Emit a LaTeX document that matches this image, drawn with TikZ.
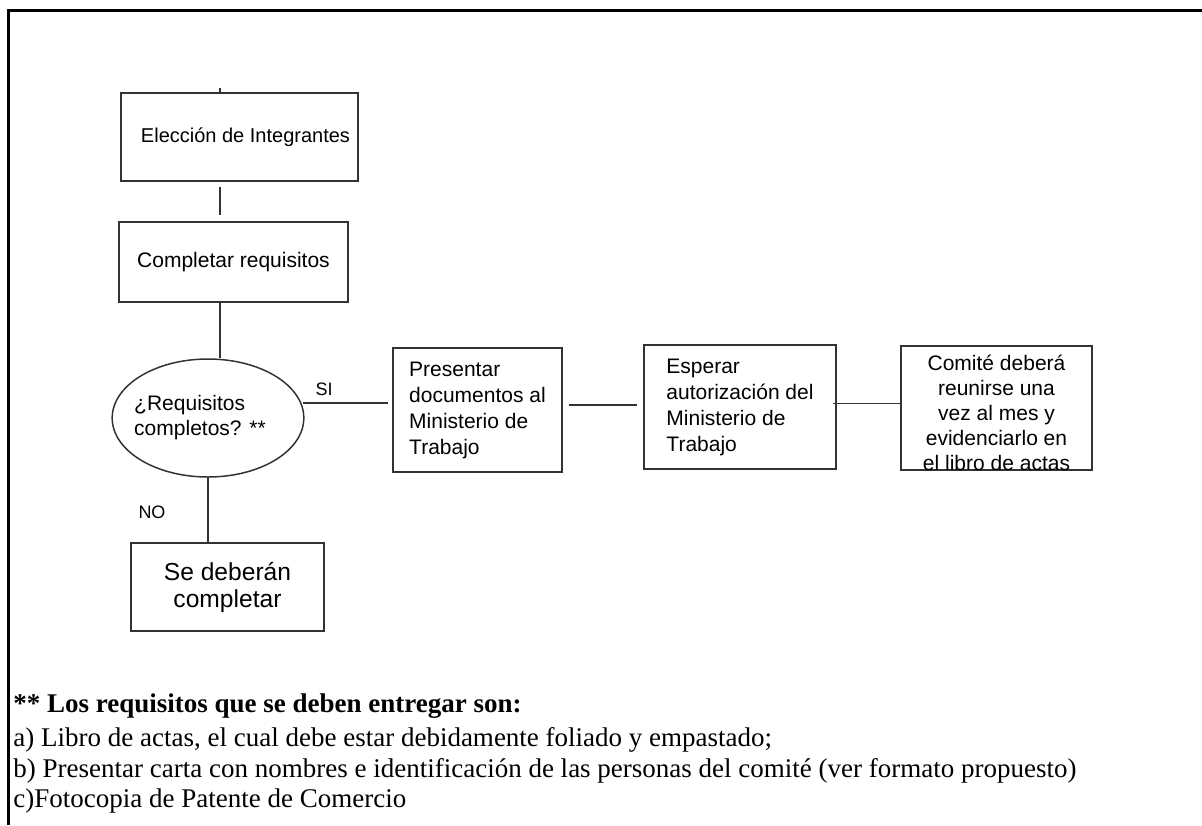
\documentclass[tikz,border=0pt]{standalone}
\usepackage{fontspec}
\setmainfont{Liberation Serif}
\newfontfamily\arialf{Liberation Sans}
\usepackage{tikz}
\usetikzlibrary{shapes.geometric,positioning}
\definecolor{trazo}{HTML}{333333}
\tikzset{
  paso/.style={draw=trazo,line width=0.75pt,inner sep=0pt,align=left,
               font=\arialf\fontsize{10.5}{13}\selectfont},
  decision/.style={ellipse,draw=trazo,line width=0.75pt,inner sep=0pt,
               align=left,font=\arialf\fontsize{10.5}{12.5}\selectfont},
  enlace/.style={draw=trazo,line width=0.75pt},
  etiq/.style={font=\arialf\fontsize{9}{11}\selectfont,inner sep=0pt},
  nota/.style={anchor=base west,inner sep=0pt,
               font=\fontsize{13.5}{15.5}\selectfont},
}
\begin{document}
\begin{tikzpicture}[x=0.5pt,y=-0.5pt]
  \useasboundingbox (0,0) rectangle (1202,825);
  \draw[line width=1.5pt] (8,825) -- (8,10) -- (1202,10);

  \node[paso,minimum width=118.5pt,minimum height=44pt,
        font=\arialf\fontsize{10}{12}\selectfont] (eleccion) at (239.5,137)
    {\hspace*{6pt}Elección de Integrantes};
  \node[paso,minimum width=114.5pt,minimum height=40pt] (completar)
    at (233.5,262) {Completar requisitos};
  \node[decision,inner xsep=-3pt,minimum width=92pt,minimum height=59pt]
    (requisitos) at (208,418) {¿Requisitos\\completos? **\hspace*{8pt}};
  \node[paso,align=center,minimum width=96.5pt,minimum height=44pt,
        font=\arialf\fontsize{12.3}{13.5}\selectfont] (sedeberan)
    at (227.5,587) {Se deberán\\completar};
  \node[paso,minimum width=84.5pt,minimum height=62pt] (presentar)
    at (477.5,410) {Presentar\\documentos al\\Ministerio de\\Trabajo};
  \node[paso,minimum width=96pt,minimum height=62pt] (esperar)
    at (740,407) {Esperar\\autorización del\\Ministerio de\\Trabajo};
  \node[paso,minimum width=95.5pt,minimum height=62pt,
        label={[font=\arialf\fontsize{10.5}{12.5}\selectfont,align=center,
                inner sep=0pt,yshift=-2.25pt]center:Comité deberá\\reunirse una\\vez al mes y\\evidenciarlo en\\el libro de actas}]
    (comite) at (996.5,408) {};

  \coordinate (arriba) at (220,88);
  \draw[enlace] (arriba) -- (arriba |- eleccion.north);
  \draw[enlace,shorten <=2.5pt,shorten >=3pt]
    (arriba |- eleccion.south) -- (arriba |- completar.north);
  \draw[enlace] (arriba |- completar.south) -- (arriba |- requisitos.north);
  \draw[enlace] (requisitos.south) -- (requisitos.south |- sedeberan.north);
  \draw[enlace,shorten <=0.5pt,shorten >=2pt]
    (requisitos.9) -- (requisitos.9 -| presentar.west);
  \draw[enlace,shorten <=3pt,shorten >=3pt]
    ([yshift=2.5pt]presentar.east) -- ([yshift=2.5pt]presentar.east -| esperar.west);
  \draw[enlace,shorten <=-2pt]
    ([yshift=1.75pt]esperar.east) -- ([yshift=1.75pt]esperar.east -| comite.west);

  \node[etiq] (lblsi) at (324,389) {SI};
  \node[etiq] (lblno) at (152,512) {NO};

  \node[nota,font=\bfseries\fontsize{13.5}{15.5}\selectfont] (titulo) at (13,712)
    {** Los requisitos que se deben entregar son:};
  \node[nota] (reqa) at (13,746)
    {a) Libro de actas, el cual debe estar debidamente foliado y empastado;};
  \node[nota] (reqb) at (13,777)
    {b) Presentar carta con nombres e identificación de las personas del comité (ver formato propuesto)};
  \node[nota] (reqc) at (13,807) {c)Fotocopia de Patente de Comercio};
\end{tikzpicture}
\end{document}
